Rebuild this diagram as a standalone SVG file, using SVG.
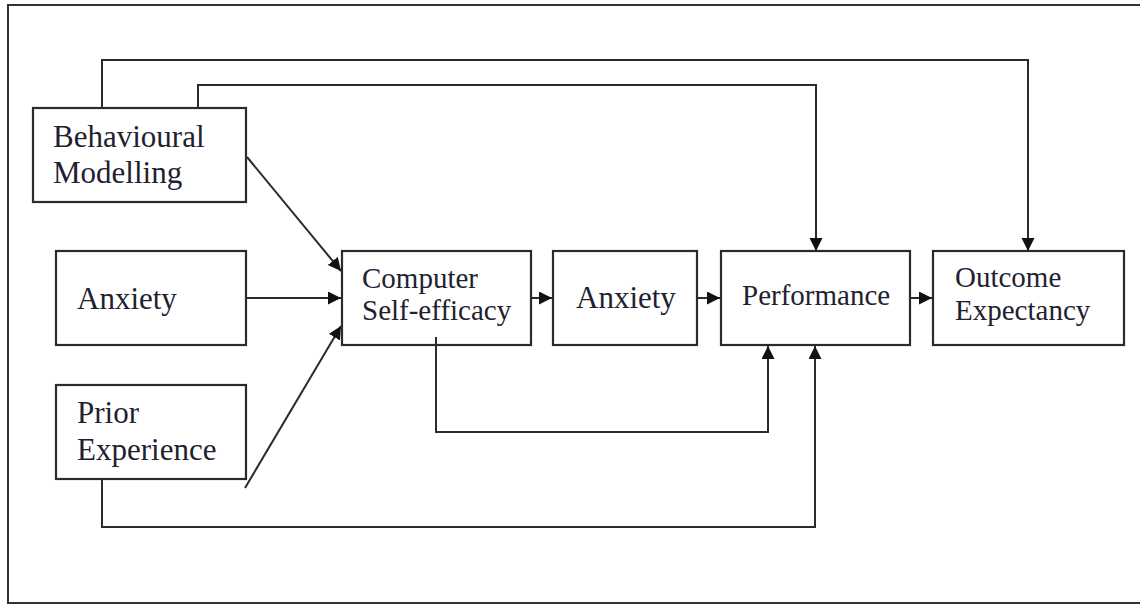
<svg xmlns="http://www.w3.org/2000/svg" width="1140" height="605" viewBox="0 0 1140 605">
  <style>
    .frame { fill: none; stroke: #333; stroke-width: 2; }
    .box { fill: #fff; stroke: #2b2b2b; stroke-width: 2.2; }
    .lbl { font-family: "Liberation Serif", "Times New Roman", serif; fill: #1e2230; }
    .big { font-size: 31px; }
    .mid { font-size: 29px; }
    .link { fill: none; stroke: #2b2b2b; stroke-width: 2; }
    .arrow { marker-end: url(#head); }
  </style>
  <defs>
    <marker id="head" markerUnits="userSpaceOnUse" markerWidth="14" markerHeight="14" refX="13" refY="6.5" orient="auto">
      <path d="M0,0 L13,6.5 L0,13 z" fill="#111"/>
    </marker>
  </defs>

  <rect width="1140" height="605" fill="#fff"/>
  <!-- outer border, open on the right -->
  <path class="frame" d="M1145,5 H8 V603 H1145"/>

  <g id="behavioural-modelling">
    <rect class="box" x="33" y="108" width="213" height="94"/>
    <text class="lbl big" x="53" y="147">Behavioural</text>
    <text class="lbl big" x="53" y="183">Modelling</text>
  </g>

  <g id="anxiety-prior">
    <rect class="box" x="56" y="251" width="190" height="94"/>
    <text class="lbl big" x="77" y="309">Anxiety</text>
  </g>

  <g id="prior-experience">
    <rect class="box" x="56" y="385" width="190" height="94"/>
    <text class="lbl big" x="77" y="423">Prior</text>
    <text class="lbl big" x="77" y="460">Experience</text>
  </g>

  <g id="computer-self-efficacy">
    <rect class="box" x="342" y="251" width="189" height="94"/>
    <text class="lbl mid" x="362" y="288">Computer</text>
    <text class="lbl mid" x="362" y="320">Self-efficacy</text>
  </g>

  <g id="anxiety">
    <rect class="box" x="553" y="251" width="144" height="94"/>
    <text class="lbl big" x="576" y="308">Anxiety</text>
  </g>

  <g id="performance">
    <rect class="box" x="721" y="251" width="189" height="94"/>
    <text class="lbl mid" x="742" y="305">Performance</text>
  </g>

  <g id="outcome-expectancy">
    <rect class="box" x="933" y="251" width="191" height="94"/>
    <text class="lbl mid" x="955" y="287">Outcome</text>
    <text class="lbl mid" x="955" y="320">Expectancy</text>
  </g>

  <!-- drawn last so the feedback line can start just inside its box -->
  <g id="connectors">
    <path class="link arrow" d="M198,108 V85 H816 V251"/>
    <path class="link arrow" d="M102,108 V60 H1028 V251"/>
    <path class="link arrow" d="M247,157 L341,271"/>
    <path class="link arrow" d="M246,298 H341"/>
    <path class="link arrow" d="M245,488 L341,326"/>
    <path class="link arrow" d="M102,479 V527 H815 V346"/>
    <path class="link arrow" d="M436,337 V432 H768 V346"/>
    <path class="link arrow" d="M531,298 H552"/>
    <path class="link arrow" d="M697,298 H720"/>
    <path class="link arrow" d="M910,298 H932"/>
  </g>
</svg>
